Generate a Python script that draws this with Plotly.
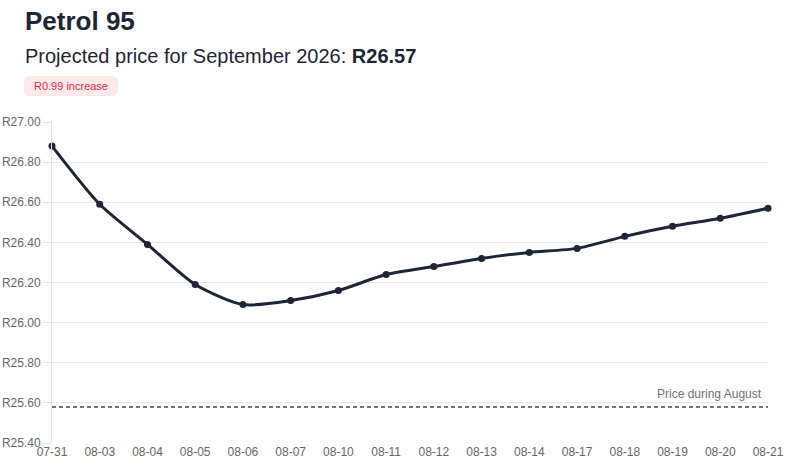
import plotly.graph_objects as go

# Data
dates = ["07-31", "08-03", "08-04", "08-05", "08-06", "08-07", "08-10", "08-11",
         "08-12", "08-13", "08-14", "08-17", "08-18", "08-19", "08-20", "08-21"]
prices = [26.88, 26.59, 26.39, 26.19, 26.09, 26.11, 26.16, 26.24,
          26.28, 26.32, 26.35, 26.37, 26.43, 26.48, 26.52, 26.57]
august_price = 25.58
projected = 26.57
change = 0.99

W, H = 787, 472
L, R, T, B = 52, 19, 122, 29
PW, PH = W - L - R, H - T - B


def px_x(x):
    # pixel -> paper coordinate
    return (x - L) / PW


def px_y(y):
    return (H - B - y) / PH


FONT = "Liberation Sans, Arial, sans-serif"
DARK = "#1f2535"

fig = go.Figure()

fig.add_trace(go.Scatter(
    x=dates, y=prices, mode="lines+markers",
    line=dict(color=DARK, width=3, shape="spline", smoothing=0.7),
    marker=dict(color=DARK, size=7),
    cliponaxis=False,
    hoverinfo="x+y", showlegend=False,
))

# August reference line
fig.add_shape(type="line", xref="paper", yref="y", x0=0, x1=1,
              y0=august_price, y1=august_price,
              line=dict(color="#6b7280", width=2, dash="4px,3px"))
fig.add_annotation(xref="paper", yref="y", x=px_x(764), y=august_price,
                   text="Price during August", showarrow=False,
                   xanchor="right", yanchor="bottom", yshift=4,
                   font=dict(family=FONT, size=12, color="#6b7280"))

# Header texts
fig.add_annotation(xref="paper", yref="paper", x=px_x(23), y=px_y(21),
                   text="<b>Petrol 95</b>", showarrow=False,
                   xanchor="left", yanchor="middle",
                   font=dict(family=FONT, size=26, color=DARK))
fig.add_annotation(xref="paper", yref="paper", x=px_x(23), y=px_y(56),
                   text=f"Projected price for September 2026: <b>R{projected:.2f}</b>",
                   showarrow=False, xanchor="left", yanchor="middle",
                   font=dict(family=FONT, size=20, color=DARK))

# Badge (rounded rectangle)
bx0, bx1, by0, by1, rr = 24, 118, 76, 96, 6
path = (f"M {px_x(bx0 + rr)},{px_y(by0)} L {px_x(bx1 - rr)},{px_y(by0)} "
        f"Q {px_x(bx1)},{px_y(by0)} {px_x(bx1)},{px_y(by0 + rr)} "
        f"L {px_x(bx1)},{px_y(by1 - rr)} "
        f"Q {px_x(bx1)},{px_y(by1)} {px_x(bx1 - rr)},{px_y(by1)} "
        f"L {px_x(bx0 + rr)},{px_y(by1)} "
        f"Q {px_x(bx0)},{px_y(by1)} {px_x(bx0)},{px_y(by1 - rr)} "
        f"L {px_x(bx0)},{px_y(by0 + rr)} "
        f"Q {px_x(bx0)},{px_y(by0)} {px_x(bx0 + rr)},{px_y(by0)} Z")
fig.add_shape(type="path", xref="paper", yref="paper", path=path,
              fillcolor="#fde8ea", line=dict(width=0), layer="above")
fig.add_annotation(xref="paper", yref="paper", x=px_x((bx0 + bx1) / 2),
                   y=px_y((by0 + by1) / 2),
                   text=f"R{change:.2f} increase", showarrow=False,
                   xanchor="center", yanchor="middle",
                   font=dict(family=FONT, size=11, color="#dc2f45"))

fig.update_layout(
    width=W, height=H,
    margin=dict(l=L, r=R, t=T, b=B, autoexpand=False),
    paper_bgcolor="white", plot_bgcolor="white",
    font=dict(family=FONT, size=12, color="#666666"),
    xaxis=dict(type="category", range=[0, len(dates) - 1],
               showgrid=False, showline=False, zeroline=False,
               ticks="", tickfont=dict(size=12, color="#666666")),
    yaxis=dict(range=[25.4, 27.0], dtick=0.2, tick0=25.4,
               tickprefix="R", tickformat=".2f",
               showgrid=True, gridcolor="#e5e5e5", gridwidth=1,
               showline=True, linecolor="#e0e0e0", linewidth=1,
               ticks="outside", ticklen=8, tickcolor="#e0e0e0",
               zeroline=False, tickfont=dict(size=12, color="#666666")),
)

# drop the default body margin so the figure fills the window
fig.write_html("out.html",
               config={"displayModeBar": False},
               post_script="document.body.style.margin='0';"
                           "document.body.style.overflow='hidden';")
